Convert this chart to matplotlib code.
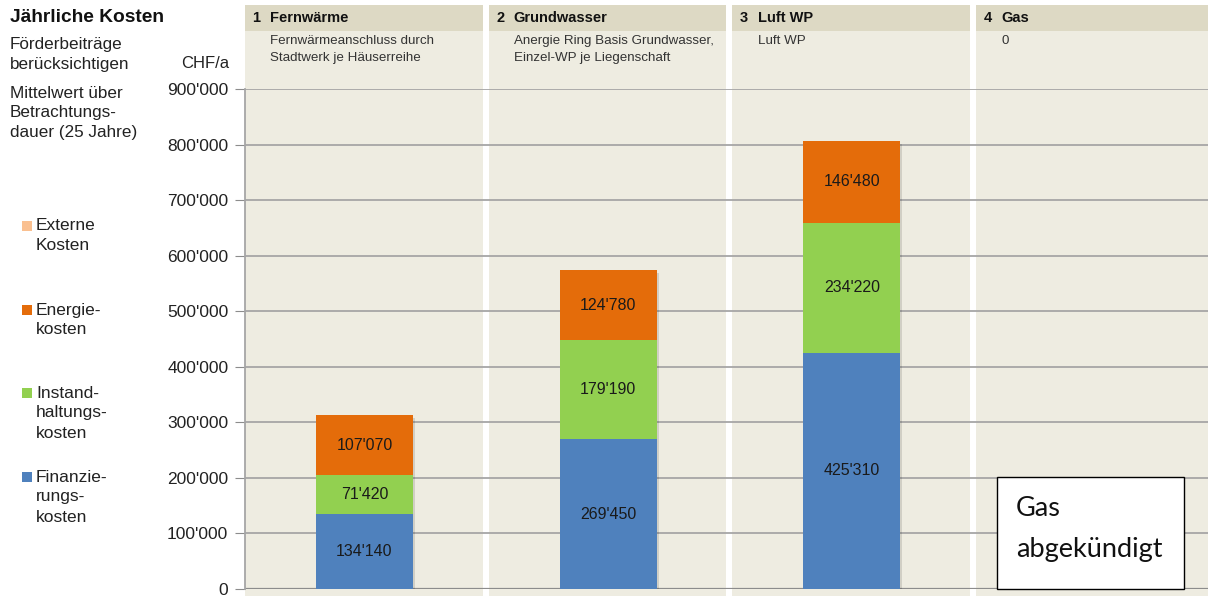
import matplotlib
matplotlib.use("Agg")
import matplotlib.pyplot as plt
from matplotlib.patches import Rectangle
from matplotlib.transforms import blended_transform_factory
from matplotlib.ticker import FuncFormatter

# ---- data ----
panel_numbers = ["1", "2", "3", "4"]
panel_titles = ["Fernwärme", "Grundwasser", "Luft WP", "Gas"]
panel_subtitles = [
    "Fernwärmeanschluss durch\nStadtwerk je Häuserreihe",
    "Anergie Ring Basis Grundwasser,\nEinzel-WP je Liegenschaft",
    "Luft WP",
    "0",
]
finanzierung = [134140, 269450, 425310, 0]
instandhaltung = [71420, 179190, 234220, 0]
energie = [107070, 124780, 146480, 0]
externe = [0, 0, 0, 0]
series_names = ["Externe\nKosten", "Energie-\nkosten", "Instand-\nhaltungs-\nkosten",
                "Finanzie-\nrungs-\nkosten"]
series_colors = ["#fac090", "#e46c0a", "#92d050", "#4f81bd"]
y_ticks = [0, 100000, 200000, 300000, 400000, 500000, 600000, 700000, 800000, 900000]

W, H = 1208, 596
fig = plt.figure(figsize=(W / 100, H / 100), dpi=100)
fig.patch.set_facecolor("white")
plt.rcParams["font.family"] = ["Liberation Sans", "DejaVu Sans"]

def fx(x):
    return x / W

def fy(y):
    return 1 - y / H

ax_l, ax_r, ax_b, ax_t = 245, 1208, 589, 89
ax = fig.add_axes([fx(ax_l), fy(ax_b), fx(ax_r - ax_l), (ax_b - ax_t) / H])
ax.set_facecolor("none")
period = 243.7
ax.set_xlim(0, (ax_r - ax_l) / period)
ax.set_ylim(0, 900000)

trans = blended_transform_factory(ax.transData, ax.transAxes)
pxu = ax_b - ax_t  # pixels per axes unit (y)

def ay(y):
    return (ax_b - y) / pxu

panel_w = 0.975
for i in range(4):
    ax.add_patch(Rectangle((i, ay(H)), panel_w, ay(31) - ay(H), transform=trans,
                           facecolor="#eeece1", edgecolor="none", clip_on=False, zorder=0))
    ax.add_patch(Rectangle((i, ay(31)), panel_w, ay(5) - ay(31), transform=trans,
                           facecolor="#ddd9c4", edgecolor="none", clip_on=False, zorder=0))
    ax.text(i + 0.03, ay(18), panel_numbers[i], transform=trans, fontsize=10.5,
            fontweight="bold", va="center", ha="left", color="#111111")
    ax.text(i + 0.103, ay(18), panel_titles[i], transform=trans, fontsize=10.5,
            fontweight="bold", va="center", ha="left", color="#111111")
    ax.text(i + 0.103, ay(35), panel_subtitles[i], transform=trans, fontsize=9.6,
            va="top", ha="left", color="#333333", linespacing=1.6)

# gridlines
for t in y_ticks[1:]:
    ax.axhline(t, color="#a6a6a6", lw=1.3, zorder=1)
ax.axhline(0, color="#8c8c8c", lw=1.6, zorder=1)

# bars
x = [i + 0.49 for i in range(4)]
bw = 0.398
stack = [finanzierung, instandhaltung, energie, externe]
stack_colors = ["#4f81bd", "#92d050", "#e46c0a", "#fac090"]
bottoms = [0] * 4
tops = [f + s + e + x_ for f, s, e, x_ in zip(finanzierung, instandhaltung, energie, externe)]
for xi, tp in zip(x, tops):
    if tp > 0:
        ax.bar(xi + 0.008, tp, width=bw, bottom=-5000, color="#000000", alpha=0.12,
               zorder=2, linewidth=0)
for vals, col in zip(stack, stack_colors):
    ax.bar(x, vals, width=bw, bottom=bottoms, color=col, zorder=3, linewidth=0)
    for xi, v, b in zip(x, vals, bottoms):
        if v > 0:
            ax.text(xi, b + v / 2, f"{v:,}".replace(",", "'"), ha="center", va="center",
                    fontsize=11.5, color="#1a1a1a", zorder=4)
    bottoms = [b + v for b, v in zip(bottoms, vals)]

# axes styling
for s in ["top", "right", "bottom"]:
    ax.spines[s].set_visible(False)
ax.spines["left"].set_color("#a6a6a6")
ax.spines["left"].set_linewidth(1.3)
ax.set_yticks(y_ticks)
ax.yaxis.set_major_formatter(FuncFormatter(lambda v, p: f"{int(v):,}".replace(",", "'")))
ax.tick_params(axis="y", length=7, color="#8c8c8c", labelsize=12.5, labelcolor="#222222", pad=5)
ax.set_xticks([])
for lbl in ax.get_yticklabels():
    lbl.set_verticalalignment("center_baseline")

# left side texts
fig.text(fx(10), fy(18), "Jährliche Kosten", fontsize=13.8, fontweight="bold", va="center",
         ha="left", color="#111111")
for txt, yy in [("Förderbeiträge", 44), ("berücksichtigen", 64), ("Mittelwert über", 93),
                ("Betrachtungs-", 113), ("dauer (25 Jahre)", 132)]:
    fig.text(fx(10), fy(yy), txt, fontsize=12.3, va="center", ha="left", color="#222222")
fig.text(fx(229), fy(64), "CHF/a", fontsize=12, va="center", ha="right", color="#222222")

# legend
leg_y = [226, 310, 393, 477]
for name, col, yy in zip(series_names, series_colors, leg_y):
    fig.patches.append(Rectangle((fx(22), fy(yy + 5)), 10 / W, 10 / H, transform=fig.transFigure,
                                 facecolor=col, edgecolor="none"))
    for k, ln in enumerate(name.split("\n")):
        fig.text(fx(36), fy(yy + 20 * k), ln, fontsize=12.5, va="center", ha="left",
                 color="#222222")

# Gas box
fig.patches.append(Rectangle((fx(997), fy(589)), 187 / W, 112 / H, transform=fig.transFigure,
                             facecolor="white", edgecolor="black", lw=1.0, zorder=5))
fig.text(fx(1016), fy(508), "Gas", fontsize=19.5, va="center", ha="left", color="#111111",
         family=["Lato", "DejaVu Sans"], zorder=6)
fig.text(fx(1016), fy(550), "abgekündigt", fontsize=19.5, va="center", ha="left", color="#111111",
         family=["Lato", "DejaVu Sans"], zorder=6)

fig.savefig("out.png", dpi=100)
